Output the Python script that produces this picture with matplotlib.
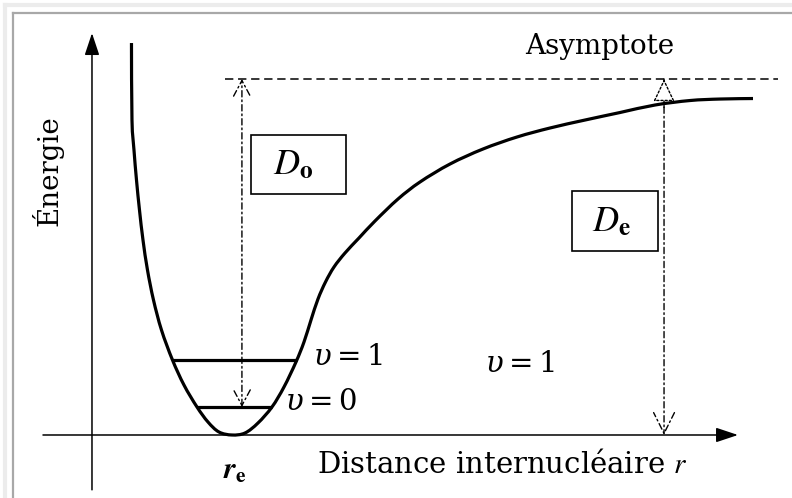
import numpy as np
import matplotlib
matplotlib.use("Agg")
import matplotlib.pyplot as plt
from matplotlib.lines import Line2D
from matplotlib.patches import Rectangle, PathPatch
from matplotlib.path import Path

plt.rcParams["font.family"] = ["DejaVu Serif"]
plt.rcParams["mathtext.fontset"] = "stix"
plt.rcParams["lines.scale_dashes"] = False

# Potential energy curve (internuclear distance r, energy E; D_e = 1, r_e = 1)
r_curve = [0.2821, 0.2857, 0.3000, 0.3179, 0.3393, 0.3643, 0.3964, 0.4393,
           0.4964, 0.5750, 0.6571, 0.7500, 0.8286, 0.9071, 1.0000,
           1.0929, 1.1857, 1.2857, 1.3714, 1.4571, 1.5143, 1.5643, 1.6143,
           1.6679, 1.7286, 1.8071, 1.9071, 2.0214, 2.1857, 2.3429, 2.5571,
           2.7929, 3.0357, 3.2714, 3.5214, 3.7714, 4.0214, 4.2714, 4.4857,
           4.7214]
E_curve = [1.1011, 0.8848, 0.8006, 0.7163, 0.6320, 0.5478, 0.4635, 0.3792,
           0.2949, 0.2107, 0.1404, 0.0787, 0.0365, 0.0084, 0.0000,
           0.0056, 0.0337, 0.0787, 0.1348, 0.2051, 0.2612, 0.3230, 0.3820,
           0.4298, 0.4719, 0.5112, 0.5534, 0.6011, 0.6629, 0.7107, 0.7612,
           0.8034, 0.8371, 0.8624, 0.8848, 0.9059, 0.9270, 0.9396, 0.9438,
           0.9452]

# Vibrational levels
level_names = ["v0", "v1"]
level_E = [0.0787, 0.2107]

# Characteristic quantities
r_e = 1.0
D_e = 1.0
r_D0 = 1.071   # abscissa of the D0 arrow
r_De = 4.086   # abscissa of the De arrow


def smooth_path(xs, ys):
    """Cubic Bezier path passing through every point (Catmull-Rom tangents)."""
    p = np.column_stack([xs, ys]).astype(float)
    ext = np.vstack([p[0], p, p[-1]])
    verts = [p[0]]
    codes = [Path.MOVETO]
    for i in range(len(p) - 1):
        a, b, c, d = ext[i], ext[i + 1], ext[i + 2], ext[i + 3]
        verts += [b + (c - a) / 6.0, c - (d - b) / 6.0, c]
        codes += [Path.CURVE4] * 3
    return Path(verts, codes)


fig = plt.figure(figsize=(7.92, 4.98), dpi=100)
ax = fig.add_axes([0, 0, 1, 1])
ax.set_xlim(-0.657, 5.0)
ax.set_ylim(-0.177, 1.222)
ax.axis("off")

# picture frame
W, H = 792, 498
fig.add_artist(Line2D([5 / W, 1], [1 - 5 / H, 1 - 5 / H], color="#ececec", lw=3))
fig.add_artist(Line2D([5 / W, 5 / W], [0, 1 - 5 / H], color="#ececec", lw=3))
fig.add_artist(Line2D([13 / W, 1], [1 - 13 / H, 1 - 13 / H], color="#a8a8a8", lw=1.6))
fig.add_artist(Line2D([13 / W, 13 / W], [0, 1 - 13 / H], color="#a8a8a8", lw=1.6))

# axes with arrows
ax.annotate("", xy=(0, 1.129), xytext=(0, -0.154),
            arrowprops=dict(arrowstyle="-|>,head_length=0.9,head_width=0.3",
                            mutation_scale=15, lw=1.1, color="black",
                            shrinkA=0, shrinkB=0))
ax.annotate("", xy=(4.614, 0), xytext=(-0.35, 0),
            arrowprops=dict(arrowstyle="-|>,head_length=0.9,head_width=0.3",
                            mutation_scale=15, lw=1.1, color="black",
                            shrinkA=0, shrinkB=0))

# potential curve
ax.add_patch(PathPatch(smooth_path(r_curve, E_curve), fill=False,
                       edgecolor="black", lw=2.3, joinstyle="round",
                       capstyle="butt", zorder=3))

# vibrational levels, bounded by the two branches of the curve
r_arr = np.array(r_curve)
E_arr = np.array(E_curve)
imin = int(np.argmin(E_arr))
left_r, left_E = r_arr[:imin + 1][::-1], E_arr[:imin + 1][::-1]
right_r, right_E = r_arr[imin:], E_arr[imin:]
for E in level_E:
    rl = np.interp(E, left_E, left_r)
    rr = np.interp(E, right_E, right_r)
    ax.plot([rl, rr], [E, E], color="black", lw=2.3, solid_capstyle="butt", zorder=3)

# asymptote
ax.plot([0.95, 4.90], [D_e, D_e], color="black", lw=1.1,
        linestyle=(0, (6, 3.4)))
ax.text(3.629, 1.090, "Asymptote", fontsize=20, ha="center", va="center")

dashdot = (0, (4.5, 2.2, 1.2, 2.2))

# D0 arrow: from the v = 0 level to the asymptote
ax.annotate("", xy=(r_D0, D_e), xytext=(r_D0, level_E[0]),
            arrowprops=dict(arrowstyle="<->,head_length=0.75,head_width=0.4",
                            mutation_scale=15, lw=1.0, color="black",
                            linestyle=dashdot, shrinkA=0, shrinkB=0))
# De arrow: from the bottom of the well to the asymptote
ax.annotate("", xy=(r_De, 0), xytext=(r_De, D_e),
            arrowprops=dict(arrowstyle="->,head_length=1.0,head_width=0.5",
                            mutation_scale=15, lw=1.0, color="black",
                            linestyle=dashdot, shrinkA=0, shrinkB=0))
ax.annotate("", xy=(r_De, D_e), xytext=(r_De, D_e - 0.08),
            arrowprops=dict(arrowstyle="-|>,head_length=0.95,head_width=0.45",
                            mutation_scale=15, lw=1.0, edgecolor="black",
                            facecolor="white", linestyle=(0, (1.5, 1.5)),
                            shrinkA=0, shrinkB=0), zorder=4)

# boxed labels
ax.add_patch(Rectangle((1.136, 0.677), 0.678, 0.166, fill=False, lw=1.2,
                       edgecolor="black"))
ax.text(1.436, 0.760, r"$D_{\mathbf{o}}$", fontsize=26, ha="center", va="center",
        math_fontfamily="stix")
ax.add_patch(Rectangle((3.429, 0.517), 0.614, 0.168, fill=False, lw=1.2,
                       edgecolor="black"))
ax.text(3.714, 0.600, r"$D_{\mathbf{e}}$", fontsize=26, ha="center", va="center",
        math_fontfamily="stix")

# level labels
for x, y, s in [(1.579, 0.219, r"$\upsilon = 1$"),
                (1.379, 0.093, r"$\upsilon = 0$"),
                (2.807, 0.199, r"$\upsilon = 1$")]:
    ax.text(x, y, s, fontsize=21, ha="left", va="center",
            math_fontfamily="dejavuserif")

# axis labels
ax.text(-0.321, 0.744, "Énergie", fontsize=20, rotation=90,
        ha="center", va="center")
ax.text(1.607, -0.084, r"Distance internucléaire $r$", fontsize=21,
        ha="left", va="center", math_fontfamily="stix")
ax.text(r_e + 0.02, -0.098, r"$\mathbfit{r}_{\mathbf{e}}$", fontsize=22,
        ha="center", va="center", math_fontfamily="stix")

fig.savefig("out.png", dpi=100)
